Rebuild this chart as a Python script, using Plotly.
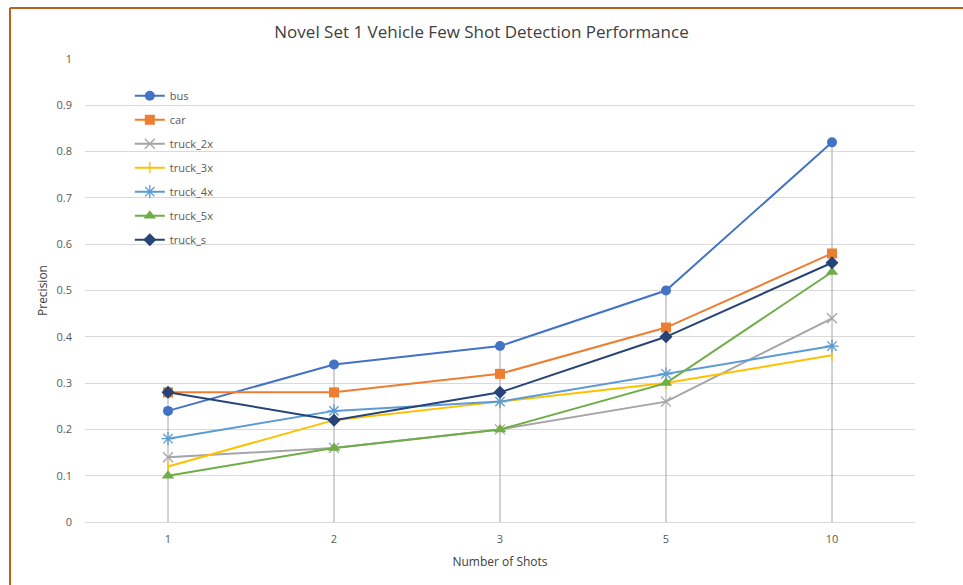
import plotly.graph_objects as go

categories = ["1", "2", "3", "5", "10"]
bus = [0.24, 0.34, 0.38, 0.50, 0.82]
car = [0.28, 0.28, 0.32, 0.42, 0.58]
truck_2x = [0.14, 0.16, 0.20, 0.26, 0.44]
truck_3x = [0.12, 0.22, 0.26, 0.30, 0.36]
truck_4x = [0.18, 0.24, 0.26, 0.32, 0.38]
truck_5x = [0.10, 0.16, 0.20, 0.30, 0.54]
truck_s = [0.28, 0.22, 0.28, 0.40, 0.56]
y_ticks = [0, 0.1, 0.2, 0.3, 0.4, 0.5, 0.6, 0.7, 0.8, 0.9, 1]
y_tick_labels = ["0", "0.1", "0.2", "0.3", "0.4", "0.5", "0.6", "0.7", "0.8", "0.9", "1"]

series = [
    ("bus", bus, "#4472C4", "circle", 10, 0),
    ("car", car, "#ED7D31", "square", 10, 0),
    ("truck_2x", truck_2x, "#A5A5A5", "x-thin-open", 10, 1.3),
    ("truck_3x", truck_3x, "#FFC000", "line-ns-open", 8, 1.3),
    ("truck_4x", truck_4x, "#5B9BD5", "asterisk-open", 11, 1.3),
    ("truck_5x", truck_5x, "#70AD47", "triangle-up", 11, 0),
    ("truck_s", truck_s, "#264478", "diamond", 10, 0),
]

fig = go.Figure()

# drop lines from highest point to axis
all_vals = [s[1] for s in series]
dx, dy = [], []
for i, c in enumerate(categories):
    top = max(v[i] for v in all_vals)
    dx += [c, c, None]
    dy += [0, top, None]
fig.add_trace(go.Scatter(x=dx, y=dy, mode="lines", line=dict(color="#A6A6A6", width=1),
                         showlegend=False, hoverinfo="skip"))

for name, vals, color, sym, size, lw in series:
    mk = dict(symbol=sym, size=size, color=color)
    if lw:
        mk["line"] = dict(color=color, width=lw)
    fig.add_trace(go.Scatter(x=categories, y=vals, name=name, mode="lines+markers",
                             line=dict(color=color, width=2), marker=mk,
                             legendgroup=name))

font_main = "Open Sans, Liberation Sans, Arial"

fig.update_layout(
    width=963, height=585,
    margin=dict(l=85, r=48, t=59, b=63),
    paper_bgcolor="white", plot_bgcolor="white",
    title=dict(text="Novel Set 1 Vehicle Few Shot Detection Performance",
               x=0.5, xanchor="center", y=0.945, yanchor="middle",
               font=dict(family=font_main, size=17, color="#404040")),
    font=dict(family=font_main, size=11, color="#595959"),
    xaxis=dict(type="category", range=[-0.5, 4.5], showgrid=False, zeroline=False,
               showline=False, ticks="", ticklabelstandoff=9,
               tickfont=dict(size=11, color="#595959"),
               title=dict(text="Number of Shots", font=dict(size=12, color="#404040"), standoff=12)),
    yaxis=dict(range=[0, 1], tickvals=y_ticks, ticktext=y_tick_labels,
               showgrid=True, gridcolor="#D9D9D9", gridwidth=1, zeroline=True,
               zerolinecolor="#D9D9D9", zerolinewidth=1, ticks="",
               ticklabelstandoff=12,
               tickfont=dict(size=11, color="#595959"),
               title=dict(text="Precision", font=dict(size=12, color="#404040"), standoff=6)),
    legend=dict(x=0.054, y=0.952, xanchor="left", yanchor="top", bgcolor="rgba(0,0,0,0)",
                traceorder="grouped", tracegroupgap=5, itemwidth=30,
                font=dict(size=11, color="#595959")),
    showlegend=True,
)

# chart border (top and left edges visible)
fig.add_shape(type="line", xref="paper", yref="paper",
              x0=(10 - 85) / 830, x1=(963 - 85) / 830 + 0.01,
              y0=(522 - 8) / 463, y1=(522 - 8) / 463,
              line=dict(color="#B8621E", width=2))
fig.add_shape(type="line", xref="paper", yref="paper",
              x0=(10 - 85) / 830, x1=(10 - 85) / 830,
              y0=(522 - 8) / 463, y1=(522 - 590) / 463,
              line=dict(color="#B8621E", width=2))

fig.write_html("out.html", config={"displayModeBar": False},
               post_script="document.body.style.margin='0';document.body.style.overflow='hidden';")
